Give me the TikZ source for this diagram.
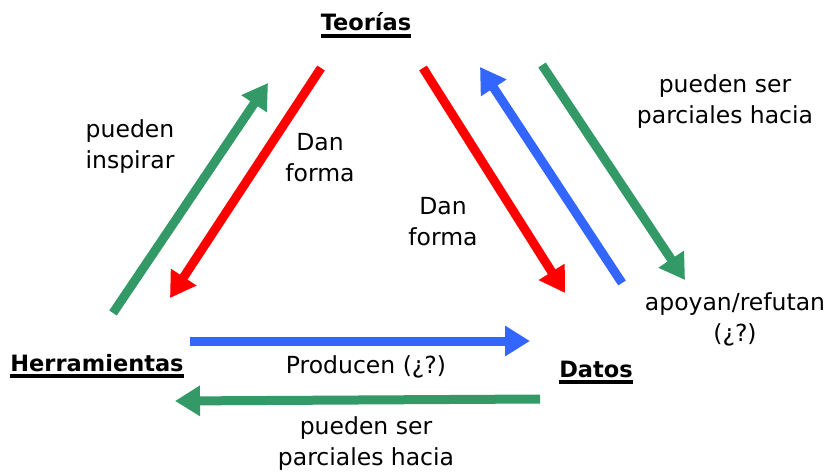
\documentclass[tikz,border=0pt]{standalone}
\usepackage{fontspec}
\setmainfont{DejaVu Sans}
\usetikzlibrary{arrows.meta}
\definecolor{cred}{HTML}{FF0000}
\definecolor{cblue}{HTML}{3366FF}
\definecolor{cgreen}{HTML}{339966}
\tikzset{
  fat/.style={line width=9pt, -{Triangle[length=25pt,width=29pt]}},
  lbl/.style={font=\fontsize{23.5}{31}\selectfont, align=center, inner sep=0pt},
  ttl/.style={font=\fontsize{22.5}{31}\selectfont\bfseries, inner sep=0pt, anchor=base},
  ul/.style={line width=3.5pt}
}
\begin{document}
\begin{tikzpicture}[x=1pt,y=-1pt]
\useasboundingbox (0,0) rectangle (834,473);
% titles
\node[ttl] (teo) at (366,31) {Teorías};
\node[ttl] (her) at (97,371) {Herramientas};
\node[ttl] (dat) at (596,377) {Datos};
\foreach \n in {teo,her,dat}{
  \draw[ul] ([yshift=-5pt]\n.base west) -- ([yshift=-5pt]\n.base east);
}
% endpoints
\coordinate (a1) at (113,313); \coordinate (a2) at (268,83);
\coordinate (b1) at (321,68);  \coordinate (b2) at (170,298);
\coordinate (c1) at (423,68);  \coordinate (c2) at (565,293);
\coordinate (d1) at (622,283); \coordinate (d2) at (480,67);
\coordinate (e1) at (542,65);  \coordinate (e2) at (685,280);
\coordinate (f1) at (190,341); \coordinate (f2) at (530,341);
\coordinate (g1) at (540,399); \coordinate (g2) at (175,401);
% arrows
\draw[fat,cgreen] (a1) -- (a2);
\draw[fat,cred] (b1) -- (b2);
\draw[fat,cred] (c1) -- (c2);
\draw[fat,cblue] (d1) -- (d2);
\draw[fat,cgreen] (e1) -- (e2);
\draw[fat,cblue] (f1) -- (f2);
\draw[fat,cgreen] (g1) -- (g2);
% labels
\node[lbl] (l1) at (130,147) {pueden\\inspirar};
\node[lbl] (l2) at (320,158) {Dan\\forma};
\node[lbl] (l3) at (443,222) {Dan\\forma};
\node[lbl] (l4) at (725,102) {pueden ser\\parciales hacia};
\node[lbl] (l5) at (735,319) {apoyan/refutan\\(¿?)};
\node[lbl] (l6) at (366,367) {Producen (¿?)};
\node[lbl] (l7) at (366,444) {pueden ser\\parciales hacia};
\end{tikzpicture}
\end{document}
